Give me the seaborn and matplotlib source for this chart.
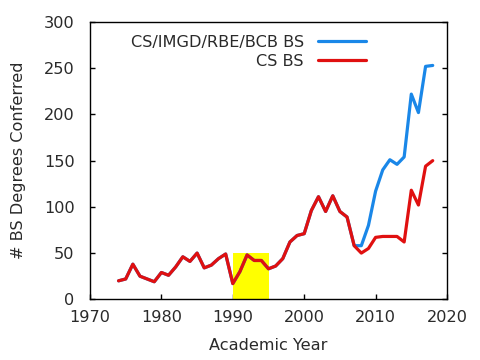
import matplotlib
matplotlib.use("Agg")
import matplotlib.pyplot as plt
import seaborn as sns
import pandas as pd

years = list(range(1974, 2019))
cs_bs = [20, 22, 38, 25, 22, 19, 29, 26, 35, 46,
         41, 50, 34, 37, 44, 49, 17, 30, 48, 42,
         42, 33, 36, 44, 62, 69, 71, 96, 111, 95,
         112, 95, 89, 58, 50, 55, 67, 68, 68, 68,
         62, 118, 102, 144, 150]
all_bs = [20, 22, 38, 25, 22, 19, 29, 26, 35, 46,
          41, 50, 34, 37, 44, 49, 17, 30, 48, 42,
          42, 33, 36, 44, 62, 69, 71, 96, 111, 95,
          112, 95, 89, 58, 58, 80, 117, 140, 151, 146,
          154, 222, 202, 252, 253]
label_all = "CS/IMGD/RBE/BCB BS"
label_cs = "CS BS"
highlight_start, highlight_end, highlight_top = 1990, 1995, 50
x_ticks = [1970, 1980, 1990, 2000, 2010, 2020]
y_ticks = [0, 50, 100, 150, 200, 250, 300]

df = pd.DataFrame({"year": years, "all": all_bs, "cs": cs_bs})

sns.set_theme(style="ticks")
plt.rcParams["font.family"] = ["DejaVu Sans"]

fig = plt.figure(figsize=(4.8, 3.6), dpi=100)
ax = fig.add_axes([90/480, 1-299.3/360, 357/480, 277.3/360])

ax.fill_between([highlight_start, highlight_end], 0, highlight_top,
                color="#ffff00", linewidth=0, zorder=1)
sns.lineplot(data=df, x="year", y="all", ax=ax, color="#1a87e8",
             linewidth=2.3, label=label_all, zorder=2)
sns.lineplot(data=df, x="year", y="cs", ax=ax, color="#e01010",
             linewidth=2.3, label=label_cs, zorder=3)

fs = 11.6
txt = "#2a2a2a"
ax.set_xlim(1970, 2020)
ax.set_ylim(0, 300)
ax.set_xticks(x_ticks)
ax.set_yticks(y_ticks)
for s in ax.spines.values():
    s.set_visible(True)
    s.set_linewidth(1.0)
    s.set_color("black")
ax.tick_params(axis="both", direction="in", length=3.5, width=1,
               labelsize=fs, colors="black", labelcolor=txt)
ax.tick_params(axis="y", right=True, pad=11)
ax.tick_params(axis="x", pad=8)
ax.set_xlabel("Academic Year", fontsize=fs, color=txt, labelpad=9)
ax.set_ylabel("# BS Degrees Conferred", fontsize=fs, color=txt, labelpad=13)

leg = ax.legend(loc="upper right", bbox_to_anchor=(366/480, 1-35/360),
                bbox_transform=fig.transFigure, frameon=False,
                markerfirst=False, fontsize=fs, handlelength=3.0,
                handletextpad=0.85, labelspacing=0.25, borderpad=0,
                borderaxespad=0)
for t in leg.get_texts():
    t.set_color(txt)

fig.savefig("out.png", dpi=100)
